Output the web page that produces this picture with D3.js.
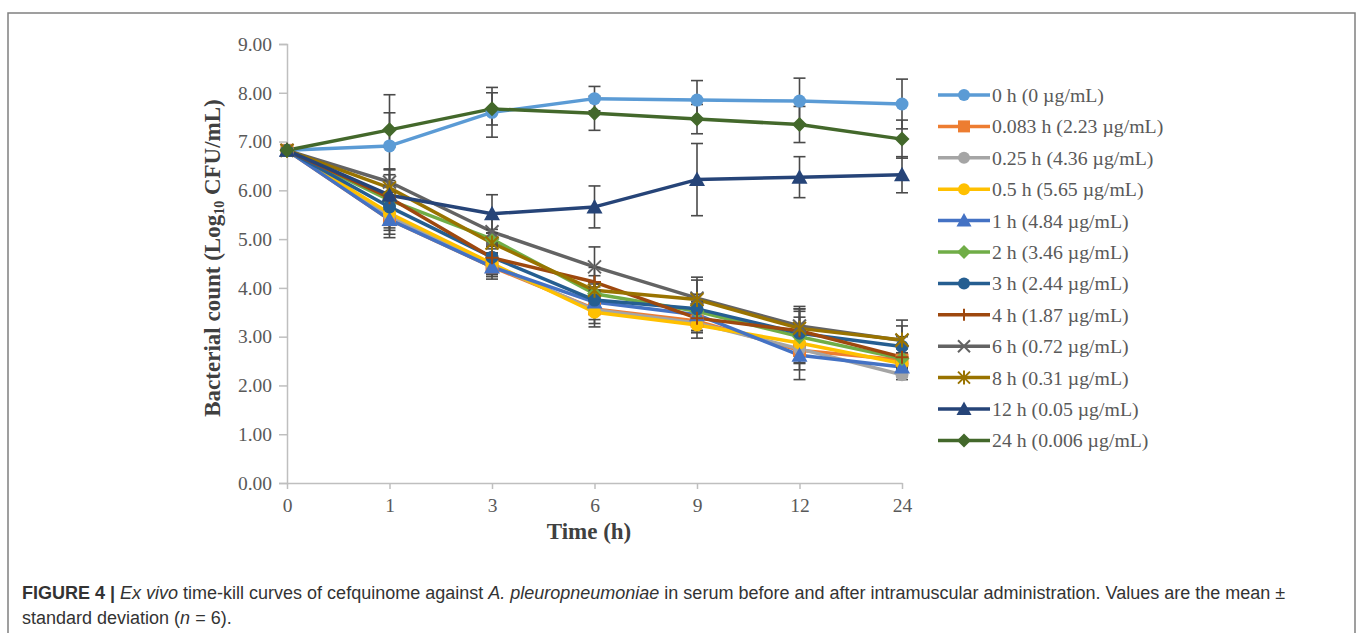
<!DOCTYPE html>
<html>
<head>
<meta charset="utf-8">
<script src="https://cdn.jsdelivr.net/npm/d3@7"></script>
<style>
  body { margin: 0; background: #fff; }
  svg { display: block; }
</style>
</head>
<body>
<svg id="chart"></svg>
<script>
// time points (x categories) and y ticks
const times = ["0", "1", "3", "6", "9", "12", "24"];
const yTicks = [0, 1, 2, 3, 4, 5, 6, 7, 8, 9];

const seriesNames = [
  "0 h (0 µg/mL)", "0.083 h (2.23 µg/mL)", "0.25 h (4.36 µg/mL)", "0.5 h (5.65 µg/mL)",
  "1 h (4.84 µg/mL)", "2 h (3.46 µg/mL)", "3 h (2.44 µg/mL)", "4 h (1.87 µg/mL)",
  "6 h (0.72 µg/mL)", "8 h (0.31 µg/mL)", "12 h (0.05 µg/mL)", "24 h (0.006 µg/mL)"
];

// mean log10 CFU/mL per series
const mean0h   = [6.82, 6.91, 7.60, 7.88, 7.85, 7.83, 7.77];
const mean0083 = [6.82, 5.40, 4.43, 3.57, 3.32, 2.72, 2.52];
const mean025  = [6.82, 5.48, 4.47, 3.55, 3.28, 2.75, 2.22];
const mean05   = [6.82, 5.53, 4.50, 3.50, 3.24, 2.87, 2.45];
const mean1    = [6.82, 5.40, 4.43, 3.71, 3.45, 2.62, 2.38];
const mean2    = [6.82, 5.80, 5.00, 3.88, 3.52, 3.00, 2.55];
const mean3    = [6.82, 5.66, 4.63, 3.75, 3.57, 3.07, 2.80];
const mean4    = [6.82, 5.85, 4.62, 4.12, 3.38, 3.12, 2.58];
const mean6    = [6.82, 6.17, 5.15, 4.43, 3.79, 3.22, 2.92];
const mean8    = [6.82, 6.05, 4.92, 3.95, 3.76, 3.17, 2.93];
const mean12   = [6.82, 5.90, 5.52, 5.66, 6.22, 6.27, 6.32];
const mean24   = [6.82, 7.24, 7.67, 7.58, 7.46, 7.35, 7.05];

// standard deviations
const sd0h   = [0.05, 1.05, 0.51, 0.25, 0.40, 0.47, 0.51];
const sd0083 = [0.05, 0.37, 0.25, 0.30, 0.20, 0.40, 0.15];
const sd025  = [0.05, 0.30, 0.20, 0.20, 0.15, 0.30, 0.10];
const sd05   = [0.05, 0.30, 0.20, 0.30, 0.27, 0.40, 0.20];
const sd1    = [0.05, 0.30, 0.20, 0.20, 0.20, 0.50, 0.20];
const sd2    = [0.05, 0.30, 0.20, 0.20, 0.20, 0.40, 0.20];
const sd3    = [0.05, 0.30, 0.25, 0.20, 0.30, 0.45, 0.20];
const sd4    = [0.05, 0.47, 0.30, 0.30, 0.30, 0.45, 0.20];
const sd6    = [0.05, 0.27, 0.30, 0.41, 0.43, 0.40, 0.30];
const sd8    = [0.05, 0.37, 0.20, 0.30, 0.40, 0.40, 0.41];
const sd12   = [0.05, 0.30, 0.39, 0.43, 0.74, 0.42, 0.37];
const sd24   = [0.05, 0.35, 0.33, 0.35, 0.30, 0.37, 0.39];

const means = [mean0h, mean0083, mean025, mean05, mean1, mean2, mean3, mean4, mean6, mean8, mean12, mean24];
const sds = [sd0h, sd0083, sd025, sd05, sd1, sd2, sd3, sd4, sd6, sd8, sd12, sd24];

const colors = ["#5B9BD5", "#ED7D31", "#A5A5A5", "#FFC000", "#4472C4", "#70AD47",
                "#255E91", "#9E480E", "#636363", "#997300", "#264478", "#43682B"];
const markers = ["circle", "square", "circle", "circle", "triangle", "diamond",
                 "circle", "plus", "x", "star", "triangle", "diamond"];

const W = 1357, H = 633;
const svg = d3.select("#chart").attr("width", W).attr("height", H);

// figure frame
svg.append("path")
  .attr("d", `M8,${H + 5}V13H1355V${H + 5}`)
  .attr("fill", "none")
  .attr("stroke", "#808080")
  .attr("stroke-width", 1.5);

const x = d3.scalePoint().domain(times).range([287, 902]);
const y = d3.scaleLinear().domain([0, 9]).range([483, 44]);

const axisColor = "#BFBFBF";
const tickFont = "Liberation Serif, Times New Roman, serif";

// y axis
const yAxis = svg.append("g")
  .attr("transform", "translate(287,0)")
  .call(d3.axisLeft(y).tickValues(yTicks).tickFormat(d3.format(".2f")).tickSize(8).tickPadding(7));
yAxis.select(".domain").attr("stroke", axisColor).attr("stroke-width", 1.5);
yAxis.selectAll(".tick line").attr("stroke", axisColor).attr("stroke-width", 1.5);
yAxis.selectAll(".tick text")
  .attr("fill", "#595959").attr("font-family", tickFont).attr("font-size", 19.5);

// x axis
const xAxis = svg.append("g")
  .attr("transform", "translate(0,483)")
  .call(d3.axisBottom(x).tickSize(6).tickSizeOuter(0).tickPadding(9));
xAxis.select(".domain").attr("stroke", axisColor).attr("stroke-width", 1.5);
xAxis.selectAll(".tick line").attr("stroke", axisColor).attr("stroke-width", 1.5);
xAxis.selectAll(".tick text")
  .attr("fill", "#595959").attr("font-family", tickFont).attr("font-size", 19.5);

// axis titles
svg.append("text")
  .attr("x", 589).attr("y", 539)
  .attr("text-anchor", "middle")
  .attr("font-family", tickFont).attr("font-weight", "bold").attr("font-size", 23)
  .attr("fill", "#404040")
  .text("Time (h)");

const yTitle = svg.append("text")
  .attr("transform", "translate(220,258) rotate(-90)")
  .attr("text-anchor", "middle")
  .attr("font-family", tickFont).attr("font-weight", "bold").attr("font-size", 23)
  .attr("fill", "#404040");
yTitle.append("tspan").text("Bacterial count (Log");
yTitle.append("tspan").attr("font-size", 14).attr("dy", 4).text("10");
yTitle.append("tspan").attr("dy", -4).text(" CFU/mL)");

function drawMarker(g, type, color, s) {
  if (type === "circle") {
    g.append("circle").attr("r", s).attr("fill", color);
  } else if (type === "square") {
    g.append("rect").attr("x", -s).attr("y", -s).attr("width", 2 * s).attr("height", 2 * s).attr("fill", color);
  } else if (type === "triangle") {
    g.append("path").attr("d", `M0,${-s - 1.5}L${s + 1.5},${s}L${-s - 1.5},${s}Z`).attr("fill", color);
  } else if (type === "diamond") {
    g.append("path").attr("d", `M0,${-s - 1}L${s + 1},0L0,${s + 1}L${-s - 1},0Z`).attr("fill", color);
  } else if (type === "plus") {
    g.append("path").attr("d", `M${-s},0H${s}M0,${-s}V${s}`).attr("stroke", color).attr("stroke-width", 2);
  } else if (type === "x") {
    g.append("path").attr("d", `M${-s},${-s}L${s},${s}M${-s},${s}L${s},${-s}`).attr("stroke", color).attr("stroke-width", 2);
  } else if (type === "star") {
    g.append("path").attr("d", `M${-s},${-s}L${s},${s}M${-s},${s}L${s},${-s}M0,${-s - 1}V${s + 1}`).attr("stroke", color).attr("stroke-width", 2);
  }
}

const line = d3.line().x(d => x(d.t)).y(d => y(d.v));
const plot = svg.append("g");

// lines
means.forEach((vals, i) => {
  const pts = vals.map((v, j) => ({ t: times[j], v: v }));
  plot.append("path")
    .datum(pts)
    .attr("d", line)
    .attr("fill", "none")
    .attr("stroke", colors[i])
    .attr("stroke-width", 3.5)
    .attr("stroke-linejoin", "round");
});

// error bars
means.forEach((vals, i) => {
  vals.forEach((v, j) => {
    const cx = x(times[j]);
    const top = y(v + sds[i][j]);
    const bot = y(v - sds[i][j]);
    const eb = plot.append("g").attr("stroke", "#4a4a4a").attr("stroke-width", 1.6);
    eb.append("line").attr("x1", cx).attr("x2", cx).attr("y1", top).attr("y2", bot);
    eb.append("line").attr("x1", cx - 6).attr("x2", cx + 6).attr("y1", top).attr("y2", top);
    eb.append("line").attr("x1", cx - 6).attr("x2", cx + 6).attr("y1", bot).attr("y2", bot);
  });
});

// markers
means.forEach((vals, i) => {
  vals.forEach((v, j) => {
    const g = plot.append("g").attr("transform", `translate(${x(times[j])},${y(v)})`);
    drawMarker(g, markers[i], colors[i], 6.5);
  });
});

// legend
const legend = svg.append("g");
seriesNames.forEach((name, i) => {
  const ly = 95 + i * 31.4;
  const g = legend.append("g").attr("transform", `translate(938,${ly})`);
  g.append("line").attr("x1", 0).attr("x2", 52).attr("y1", 0).attr("y2", 0)
    .attr("stroke", colors[i]).attr("stroke-width", 3.5);
  const m = g.append("g").attr("transform", "translate(26,0)");
  drawMarker(m, markers[i], colors[i], 6);
  g.append("text")
    .attr("x", 54).attr("y", 7)
    .attr("font-family", tickFont).attr("font-size", 19.8)
    .attr("fill", "#595959")
    .text(name);
});

// caption
const capFont = "Liberation Sans, Arial, sans-serif";
const cap1 = svg.append("text")
  .attr("x", 22).attr("y", 599)
  .attr("font-family", capFont).attr("font-size", 18).attr("fill", "#333");
cap1.append("tspan").attr("font-weight", "bold").text("FIGURE 4 | ");
cap1.append("tspan").attr("font-style", "italic").text("Ex vivo");
cap1.append("tspan").text(" time-kill curves of cefquinome against ");
cap1.append("tspan").attr("font-style", "italic").text("A. pleuropneumoniae");
cap1.append("tspan").text(" in serum before and after intramuscular administration. Values are the mean ±");

const cap2 = svg.append("text")
  .attr("x", 22).attr("y", 624)
  .attr("font-family", capFont).attr("font-size", 18).attr("fill", "#333");
cap2.append("tspan").text("standard deviation (");
cap2.append("tspan").attr("font-style", "italic").text("n");
cap2.append("tspan").text(" = 6).");
</script>
</body>
</html>
